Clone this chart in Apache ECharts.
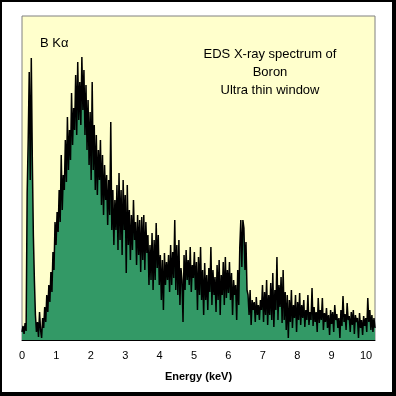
<!DOCTYPE html>
<html>
<head>
<meta charset="utf-8">
<script src="https://cdn.jsdelivr.net/npm/echarts@6/dist/echarts.min.js"></script>
<style>
html,body{margin:0;padding:0;background:#fff;}
#chart{position:absolute;left:0;top:0;width:396px;height:396px;}
#frame{position:absolute;left:0;top:0;width:396px;height:396px;box-sizing:border-box;border-style:solid;border-color:#000;border-width:2px 4px 4px 2px;pointer-events:none;}
</style>
</head>
<body>
<div id="chart"></div>
<div id="frame"></div>
<script>
// Channel calibration (keV)
const energyStart = 0;
const energyStep = 0.03;
// Counts per channel (arbitrary units)
const counts = [
  8, 14, 6, 17, 9, 147, 200, 268, 160, 282,
  180, 105, 60, 25, 8, 18, 3, 28, 10, 2,
  22, 12, 33, 18, 45, 28, 55, 38, 68, 48,
  88, 70, 118, 95, 128, 108, 150, 118, 185, 130,
  165, 150, 200, 158, 223, 170, 210, 180, 247, 195,
  232, 210, 265, 205, 278, 220, 258, 215, 283, 230,
  270, 205, 255, 190, 240, 175, 228, 160, 258, 170,
  215, 150, 205, 145, 190, 160, 200, 135, 185, 125,
  175, 140, 165, 115, 160, 125, 218, 110, 150, 95,
  140, 110, 155, 90, 167, 100, 150, 85, 160, 110,
  145, 67, 155, 95, 130, 80, 125, 90, 140, 100,
  118, 75, 125, 85, 120, 68, 123, 80, 125, 70,
  118, 87, 105, 55, 95, 60, 107, 50, 100, 60,
  117, 72, 105, 55, 85, 40, 80, 30, 87, 55,
  78, 60, 85, 48, 95, 55, 88, 62, 120, 50,
  95, 45, 100, 35, 72, 60, 18, 85, 50, 90,
  60, 80, 55, 93, 48, 75, 62, 88, 50, 78,
  30, 83, 45, 93, 40, 70, 25, 77, 40, 65,
  30, 72, 48, 93, 35, 70, 45, 63, 28, 75,
  40, 80, 25, 65, 45, 78, 35, 83, 42, 70,
  47, 78, 40, 67, 25, 60, 45, 55, 20, 70,
  35, 93, 120, 73, 120, 112, 70, 98, 50, 45,
  25, 50, 15, 40, 30, 38, 18, 43, 25, 35,
  20, 40, 30, 55, 18, 48, 25, 60, 15, 45,
  25, 57, 20, 67, 13, 50, 30, 83, 20, 55,
  33, 63, 17, 70, 20, 48, 10, 45, 2, 40,
  18, 50, 12, 35, 22, 45, 8, 38, 20, 47,
  15, 35, 22, 40, 13, 30, 20, 45, 15, 28,
  20, 52, 14, 33, 18, 28, 8, 42, 17, 30,
  20, 42, 10, 27, 18, 32, 12, 25, 5, 30,
  16, 28, 8, 35, 20, 26, 12, 22, 2, 30,
  14, 44, 18, 26, 10, 37, 20, 24, 8, 28,
  15, 30, 6, 25, 18, 22, 2, 27, 12, 20,
  5, 24, 14, 22, 8, 42, 18, 30, 10, 25,
  8, 22, 12
];
const xTicks = [0, 1, 2, 3, 4, 5, 6, 7, 8, 9, 10];
const axisTitle = 'Energy (keV)';
const notes = ['EDS X-ray spectrum of', 'Boron', 'Ultra thin window'];
const peakLabel = 'B K\u03b1';

const seriesData = counts.map((c, i) => [+(energyStart + i * energyStep).toFixed(3), c]);

const chart = echarts.init(document.getElementById('chart'), null, {renderer: 'canvas'});
const font = '"Liberation Sans", Arial, sans-serif';
chart.setOption({
  animation: false,
  backgroundColor: '#ffffff',
  grid: {
    left: 22, top: 16, right: 21, bottom: 56,
    show: true, backgroundColor: '#FFFFCC', borderColor: '#808080', borderWidth: 1
  },
  xAxis: {
    type: 'value', min: 0, max: 10.26, interval: 1,
    axisLine: {show: true, onZero: false, lineStyle: {color: '#000', width: 1}},
    axisTick: {show: false},
    splitLine: {show: false},
    axisLabel: {
      color: '#000', fontSize: 11, fontFamily: font, margin: 10,
      formatter: v => xTicks.indexOf(v) >= 0 ? String(v) : ''
    },
    name: axisTitle, nameLocation: 'middle', nameGap: 31,
    nameTextStyle: {color: '#000', fontSize: 11, fontWeight: 'bold', fontFamily: font}
  },
  yAxis: {
    type: 'value', min: 0, max: 324,
    show: false
  },
  series: [{
    type: 'line',
    data: seriesData,
    showSymbol: false,
    symbol: 'none',
    lineStyle: {color: '#000', width: 1.5},
    areaStyle: {color: '#339966', opacity: 1},
    z: 2
  }],
  graphic: [
    {type: 'text', left: 40, top: 37, style: {text: peakLabel, fontSize: 13, fontFamily: font, fill: '#000'}},
    {type: 'text', x: 270, y: 54, style: {text: notes[0], fontSize: 13, fontFamily: font, fill: '#000', textAlign: 'center', textVerticalAlign: 'middle'}},
    {type: 'text', x: 270, y: 72, style: {text: notes[1], fontSize: 13, fontFamily: font, fill: '#000', textAlign: 'center', textVerticalAlign: 'middle'}},
    {type: 'text', x: 270, y: 90, style: {text: notes[2], fontSize: 13, fontFamily: font, fill: '#000', textAlign: 'center', textVerticalAlign: 'middle'}}
  ]
});
</script>
</body>
</html>
